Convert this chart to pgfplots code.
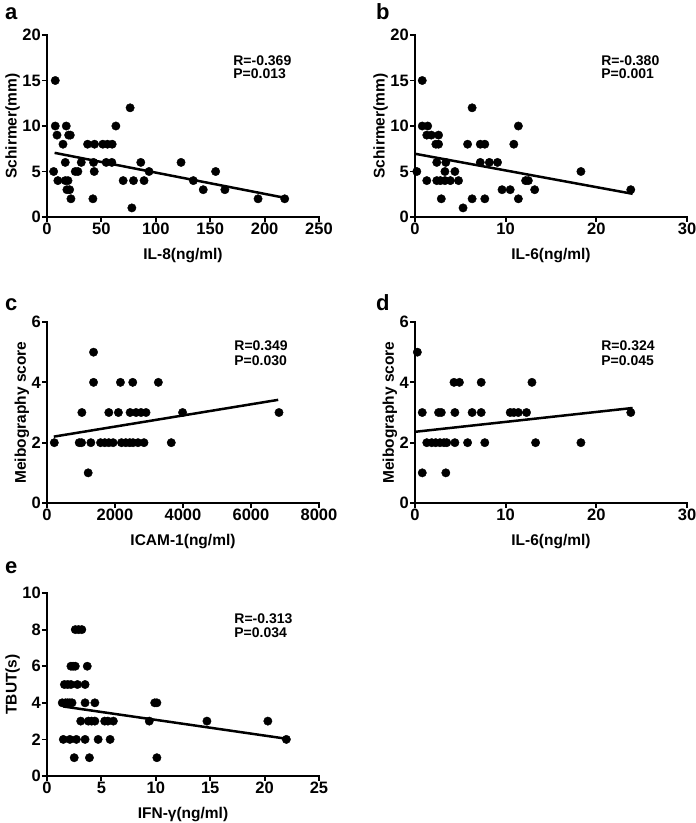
\documentclass[border=0pt]{standalone}
\usepackage{fontspec}
\setmainfont{Liberation Sans}
\usepackage{pgfplots}
\pgfplotsset{compat=1.18}
\pgfplotsset{gp/.style={
  scale only axis, width=272pt,
  axis x line*=bottom, axis y line*=left,
  axis line style={line width=2.4pt, line cap=rect},
  every tick/.style={line width=1.8pt, black},
  major tick length=5pt,
  tick align=outside,
  minor tick num=0,
  scaled ticks=false,
  /pgf/number format/assume math mode=true,
  /pgf/number format/1000 sep={},
  tick label style={font=\bfseries\fontsize{16.5}{16.5}\selectfont, inner sep=1pt},
  label style={font=\bfseries\fontsize{15.5}{15.5}\selectfont},
  xlabel style={yshift=-9pt},
  ylabel style={yshift=-2pt},
  anchor=south west,
  clip=false,
},
pts/.style={only marks, mark=*, mark size=4.2pt, black},
reg/.style={no marks, line width=2.5pt, black},
}
\tikzset{ann/.style={anchor=west, font=\bfseries\fontsize{14}{15}\selectfont, align=left},
panlet/.style={font=\bfseries\fontsize{22}{22}\selectfont, anchor=base west, inner sep=0pt}}
\begin{document}
\begin{tikzpicture}
\path[use as bounding box] (0,0) rectangle (696pt,-823pt);
\node[panlet] at (5pt,-19pt) {a};
\node[panlet] at (376pt,-19pt) {b};
\node[panlet] at (5pt,-310pt) {c};
\node[panlet] at (376pt,-310pt) {d};
\node[panlet] at (5pt,-573pt) {e};

% panel a
\begin{axis}[gp, at={(47pt,-217pt)}, height=182pt,
  xmin=0, xmax=250, ymin=0, ymax=20,
  xtick={0,50,100,150,200,250}, ytick={0,5,10,15,20},
  xlabel={IL-8(ng/ml)}, ylabel={Schirmer(mm)}]
\addplot[pts] coordinates {(7.6,15)(7.6,10)(9.2,9)(6.1,5)(10,4)(14.7,8)(16.8,6)(17.7,10)(16.8,4)(19.3,4)(18.3,3)(20.8,3)(19.9,9)(21.4,9)(22,2)(26,5)(28.4,5)(31.5,6)(37.3,8)(43.7,8)(42.8,6)(43.4,5)(42.2,2)(51.3,8)(55.6,8)(59.9,8)(54.4,6)(59.6,6)(63.3,10)(76.4,12)(70,4)(78,1)(79.5,4)(86.2,6)(89.2,4)(93.8,5)(123.2,6)(134.5,4)(143.6,3)(155,5)(163.5,3)(194,2)(218.5,2)};
\addplot[reg] coordinates {(7,7.05)(219,2.1)};
\node[ann] at (rel axis cs:0.672,0.86) {R=-0.369};
\node[ann] at (rel axis cs:0.672,0.79) {P=0.013};
\end{axis}

% panel b
\begin{axis}[gp, at={(415pt,-217pt)}, height=182pt,
  xmin=0, xmax=30, ymin=0, ymax=20,
  xtick={0,10,20,30}, ytick={0,5,10,15,20},
  xlabel={IL-6(ng/ml)}, ylabel={Schirmer(mm)}]
\addplot[pts] coordinates {(0.2,5)(0.8,15)(0.8,10)(1.4,10)(1.3,9)(1.8,9)(2.6,9)(2.3,8)(2.6,8)(2.4,6)(3.4,6)(1.3,4)(2.4,4)(2.8,4)(3.3,4)(3.9,4)(4.8,4)(3.3,5)(4.4,5)(2.9,2)(5.3,1)(5.8,8)(6.3,12)(6.3,2)(7.2,8)(7.7,8)(7.2,6)(8.2,6)(9.1,6)(7.7,2)(9.6,3)(10.5,3)(10.9,8)(11.4,10)(11.4,2)(12.2,4)(12.5,4)(13.2,3)(18.3,5)(23.8,3)};
\addplot[reg] coordinates {(0,6.95)(24,2.55)};
\node[ann] at (rel axis cs:0.672,0.86) {R=-0.380};
\node[ann] at (rel axis cs:0.672,0.79) {P=0.001};
\end{axis}

% panel c
\begin{axis}[gp, at={(47pt,-503pt)}, height=181pt,
  xmin=0, xmax=8000, ymin=0, ymax=6,
  xtick={0,2000,4000,6000,8000}, ytick={0,2,4,6},
  xlabel={ICAM-1(ng/ml)}, ylabel={Meibography score}]
\addplot[pts] coordinates {(215,2)(947,2)(1017,2)(1290,2)(1575,2)(1700,2)(1818,2)(1944,2)(2190,2)(2317,2)(2434,2)(2531,2)(2677,2)(2853,2)(3655,2)(1211,1)(1026,3)(1818,3)(2100,3)(2444,3)(2620,3)(2766,3)(2913,3)(3988,3)(6823,3)(1369,4)(2160,4)(2522,4)(3275,4)(1369,5)};
\addplot[reg] coordinates {(200,2.2)(6800,3.42)};
\node[ann] at (rel axis cs:0.676,0.867) {R=0.349};
\node[ann] at (rel axis cs:0.676,0.785) {P=0.030};
\end{axis}

% panel d
\begin{axis}[gp, at={(415pt,-503pt)}, height=181pt,
  xmin=0, xmax=30, ymin=0, ymax=6,
  xtick={0,10,20,30}, ytick={0,2,4,6},
  xlabel={IL-6(ng/ml)}, ylabel={Meibography score}]
\addplot[pts] coordinates {(0.26,5)(0.8,3)(2.6,3)(2.9,3)(4.4,3)(6.3,3)(7.3,3)(10.5,3)(10.9,3)(11.4,3)(12.3,3)(23.8,3)(1.3,2)(1.84,2)(2.28,2)(2.75,2)(3.2,2)(3.5,2)(4.4,2)(5.8,2)(7.7,2)(13.3,2)(18.3,2)(0.8,1)(3.4,1)(4.3,4)(4.9,4)(7.3,4)(12.9,4)};
\addplot[reg] coordinates {(0,2.36)(24,3.15)};
\node[ann] at (rel axis cs:0.672,0.867) {R=0.324};
\node[ann] at (rel axis cs:0.672,0.785) {P=0.045};
\end{axis}

% panel e
\begin{axis}[gp, at={(47pt,-776pt)}, height=183pt,
  xmin=0, xmax=25, ymin=0, ymax=10,
  xtick={0,5,10,15,20,25}, ytick={0,2,4,6,8,10},
  xlabel={IFN-γ(ng/ml)}, ylabel={TBUT(s)}]
\addplot[pts] coordinates {(2.6,8)(2.9,8)(3.2,8)(2.2,6)(2.4,6)(2.6,6)(3.7,6)(1.6,5)(1.9,5)(2.2,5)(2.8,5)(3.5,5)(1.4,4)(1.7,4)(1.9,4)(2.1,4)(2.3,4)(3.5,4)(4.4,4)(9.9,4)(10.1,4)(3.1,3)(3.8,3)(4.1,3)(4.4,3)(5.3,3)(5.6,3)(6.1,3)(9.4,3)(14.7,3)(20.3,3)(1.5,2)(2.1,2)(2.7,2)(3.5,2)(4.7,2)(5.8,2)(22,2)(2.5,1)(3.9,1)(10.1,1)};
\addplot[reg] coordinates {(1.5,3.8)(22.2,2.02)};
\node[ann] at (rel axis cs:0.676,0.858) {R=-0.313};
\node[ann] at (rel axis cs:0.676,0.781) {P=0.034};
\end{axis}
\end{tikzpicture}
\end{document}
